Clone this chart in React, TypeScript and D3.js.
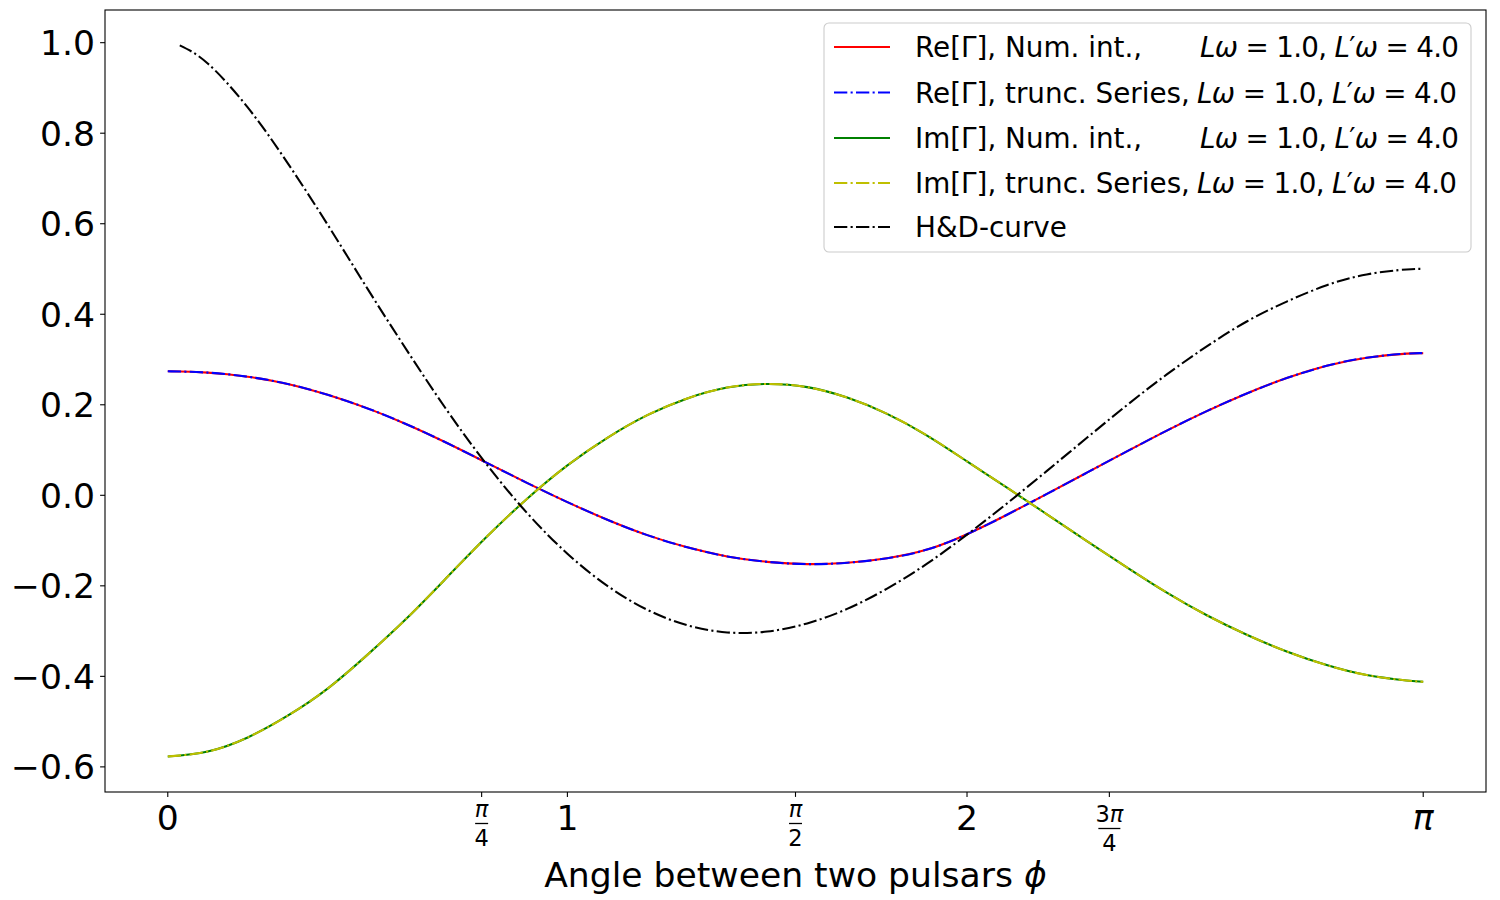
import React from 'react';
import * as d3 from 'd3';

// angle grid (rad)
const phiGrid = [
  0, 0.1, 0.2, 0.3, 0.4, 0.5, 0.6, 0.7, 0.8, 0.9, 1.0, 1.1, 1.2, 1.3, 1.4, 1.5,
  1.6, 1.7, 1.8, 1.9, 2.0, 2.1, 2.2, 2.3, 2.4, 2.5, 2.6, 2.7, 2.8, 2.9, 3.0, 3.1, Math.PI,
];

const reValues = [
  0.274, 0.271, 0.262, 0.246, 0.222, 0.192, 0.156, 0.115, 0.071, 0.027, -0.015, -0.054,
  -0.088, -0.115, -0.135, -0.147, -0.152, -0.149, -0.139, -0.12, -0.086, -0.043, 0.003,
  0.05, 0.097, 0.143, 0.186, 0.225, 0.259, 0.286, 0.304, 0.313, 0.314,
];

const imValues = [
  -0.577, -0.566, -0.535, -0.487, -0.427, -0.352, -0.27, -0.18, -0.09, -0.007, 0.066,
  0.127, 0.177, 0.214, 0.238, 0.246, 0.239, 0.216, 0.18, 0.132, 0.075, 0.017, -0.042,
  -0.101, -0.159, -0.215, -0.265, -0.308, -0.345, -0.375, -0.397, -0.409, -0.412,
];

const hdPhi = [
  0.03, 0.1, 0.2, 0.3, 0.4, 0.5, 0.6, 0.7, 0.8, 0.9, 1.0, 1.1, 1.2, 1.3, 1.4, 1.5,
  1.6, 1.7, 1.8, 1.9, 2.0, 2.1, 2.2, 2.3, 2.4, 2.5, 2.6, 2.7, 2.8, 2.9, 3.0, 3.1, Math.PI,
];

const hdValues = [
  0.994, 0.954, 0.857, 0.734, 0.598, 0.456, 0.318, 0.186, 0.066, -0.04, -0.129, -0.2,
  -0.253, -0.287, -0.303, -0.301, -0.283, -0.251, -0.206, -0.151, -0.087, -0.018, 0.054,
  0.127, 0.199, 0.267, 0.329, 0.384, 0.428, 0.464, 0.488, 0.499, 0.5,
];

const yTicks = [-0.6, -0.4, -0.2, 0.0, 0.2, 0.4, 0.6, 0.8, 1.0];
const yTickLabels = ['\u22120.6', '\u22120.4', '\u22120.2', '0.0', '0.2', '0.4', '0.6', '0.8', '1.0'];

const xTicks = [0, Math.PI / 4, 1, Math.PI / 2, 2, (3 * Math.PI) / 4, Math.PI];
// plain label, or [numerator, denominator] for fractions
const xTickLabels: (string | [string, string])[] = ['0', ['π', '4'], '1', ['π', '2'], '2', ['3π', '4'], 'π'];

const legendLabels = [
  'Re[Γ], Num. int.,',
  'Re[Γ], trunc. Series,',
  'Im[Γ], Num. int.,',
  'Im[Γ], trunc. Series,',
  'H&D-curve',
];

const FONT = '"DejaVu Sans", sans-serif';
const DASHDOT = '13.3,3.3,2.1,3.3';
const TICK_FS = 34.6;
const LEGEND_FS = 27.8;

export default function App() {
  const width = 1500;
  const height = 900;
  const plot = { left: 105, right: 1486, top: 10, bottom: 792 };

  const x = d3.scaleLinear().domain([-0.1571, 3.2987]).range([plot.left, plot.right]);
  const y = d3.scaleLinear().domain([-0.6555, 1.0722]).range([plot.bottom, plot.top]);

  const line = d3
    .line<[number, number]>()
    .x(d => x(d[0]))
    .y(d => y(d[1]))
    .curve(d3.curveNatural);

  const rePts = phiGrid.map((p, i) => [p, reValues[i]] as [number, number]);
  const imPts = phiGrid.map((p, i) => [p, imValues[i]] as [number, number]);
  const hdPts = hdPhi.map((p, i) => [p, hdValues[i]] as [number, number]);

  const series = [
    { pts: rePts, color: '#ff0000', dash: null },
    { pts: rePts, color: '#0000ff', dash: DASHDOT },
    { pts: imPts, color: '#008000', dash: null },
    { pts: imPts, color: '#bfbf00', dash: DASHDOT },
    { pts: hdPts, color: '#000000', dash: DASHDOT },
  ];

  const legendX = 824;
  const legendY = 23;
  const rowY = [47, 92.5, 138, 183, 227];
  const mathX = [1200, 1197, 1200, 1197];
  const mathW = [259, 260, 259, 260];

  return (
    <svg
      width={width}
      height={height}
      style={{ position: 'absolute', left: 0, top: 0, background: '#fff' }}
      fontFamily={FONT}
    >
      <rect x={0} y={0} width={width} height={height} fill="#fff" />

      {/* curves */}
      {series.map((s, i) => (
        <path
          key={i}
          d={line(s.pts) || ''}
          fill="none"
          stroke={s.color}
          strokeWidth={2.08}
          strokeDasharray={s.dash || undefined}
        />
      ))}

      {/* frame */}
      <rect
        x={plot.left}
        y={plot.top}
        width={plot.right - plot.left}
        height={plot.bottom - plot.top}
        fill="none"
        stroke="#000"
        strokeWidth={1.1}
      />

      {/* y axis */}
      {yTicks.map((t, i) => (
        <g key={i}>
          <line x1={plot.left - 4.9} x2={plot.left} y1={y(t)} y2={y(t)} stroke="#000" strokeWidth={1.1} />
          <text x={plot.left - 10} y={y(t)} dy="0.36em" textAnchor="end" fontSize={TICK_FS} fill="#000">
            {yTickLabels[i]}
          </text>
        </g>
      ))}

      {/* x axis */}
      {xTicks.map((t, i) => {
        const lab = xTickLabels[i];
        const cx = x(t);
        const wide = typeof lab !== 'string' && lab[0].length > 1;
        return (
          <g key={i}>
            <line x1={cx} x2={cx} y1={plot.bottom} y2={plot.bottom + 4.9} stroke="#000" strokeWidth={1.1} />
            {typeof lab === 'string' ? (
              <text
                x={cx}
                y={830}
                textAnchor="middle"
                fontSize={TICK_FS}
                fontStyle={lab === 'π' ? 'italic' : 'normal'}
                fill="#000"
              >
                {lab}
              </text>
            ) : (
              <g>
                <text x={cx} y={wide ? 821.5 : 817} textAnchor="middle" fontSize={22.5} fill="#000">
                  {wide ? (
                    <>
                      <tspan>3</tspan>
                      <tspan fontStyle="italic">π</tspan>
                    </>
                  ) : (
                    <tspan fontStyle="italic">π</tspan>
                  )}
                </text>
                <line
                  x1={cx - (wide ? 11 : 6.5)}
                  x2={cx + (wide ? 11 : 6.5)}
                  y1={wide ? 828.5 : 823.5}
                  y2={wide ? 828.5 : 823.5}
                  stroke="#000"
                  strokeWidth={1.3}
                />
                <text x={cx} y={wide ? 850.5 : 845.5} textAnchor="middle" fontSize={22.5} fill="#000">
                  {lab[1]}
                </text>
              </g>
            )}
          </g>
        );
      })}

      {/* axis label */}
      <text x={(plot.left + plot.right) / 2} y={887} textAnchor="middle" fontSize={TICK_FS} fill="#000">
        Angle between two pulsars <tspan fontStyle="italic">ϕ</tspan>
      </text>

      {/* legend */}
      <rect
        x={legendX}
        y={legendY}
        width={647}
        height={229}
        rx={5}
        fill="#fff"
        fillOpacity={0.8}
        stroke="#cccccc"
        strokeWidth={1.1}
      />
      {legendLabels.map((lab, i) => (
        <g key={i}>
          <line
            x1={834}
            x2={890}
            y1={rowY[i]}
            y2={rowY[i]}
            stroke={series[i].color}
            strokeWidth={2.08}
            strokeDasharray={series[i].dash || undefined}
          />
          <text x={915} y={rowY[i]} dy="0.36em" fontSize={LEGEND_FS} fill="#000">
            {lab}
          </text>
          {i < 4 && (
            <text
              x={mathX[i]}
              y={rowY[i]}
              dy="0.36em"
              fontSize={LEGEND_FS}
              fill="#000"
              textLength={mathW[i]}
              lengthAdjust="spacing"
            >
              <tspan fontStyle="italic">Lω</tspan>
              <tspan> = 1.0, </tspan>
              <tspan fontStyle="italic">L</tspan>
              <tspan>′</tspan>
              <tspan fontStyle="italic">ω</tspan>
              <tspan> = 4.0</tspan>
            </text>
          )}
        </g>
      ))}
    </svg>
  );
}
